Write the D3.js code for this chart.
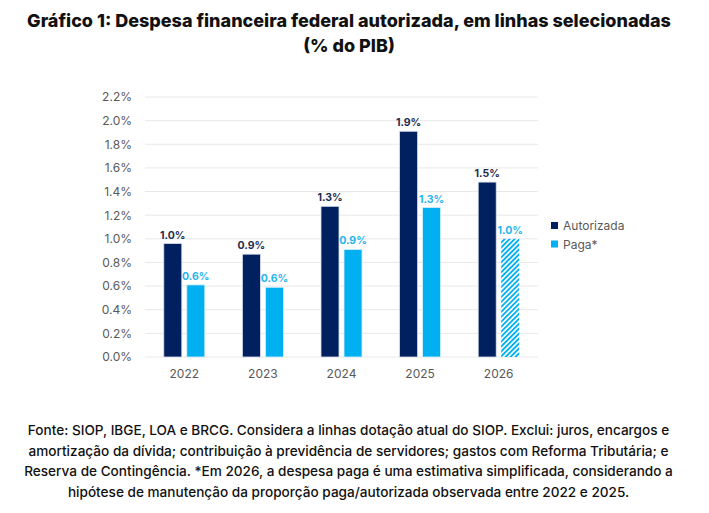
<!DOCTYPE html>
<html>
<head>
<meta charset="utf-8">
<script src="https://cdn.jsdelivr.net/npm/d3@7"></script>
<style>
  body { margin: 0; background: #fff; }
  svg { display: block; }
</style>
</head>
<body>
<div id="chart"></div>
<script>
// Data
const years = ["2022", "2023", "2024", "2025", "2026"];
const autorizada = [0.96, 0.87, 1.275, 1.91, 1.48];
const paga = [0.61, 0.59, 0.91, 1.265, 1.0];
const autorizadaLabels = ["1.0%", "0.9%", "1.3%", "1.9%", "1.5%"];
const pagaLabels = ["0.6%", "0.6%", "0.9%", "1.3%", "1.0%"];
const estimatedYears = ["2026"];
const yTicks = [0, 0.2, 0.4, 0.6, 0.8, 1.0, 1.2, 1.4, 1.6, 1.8, 2.0, 2.2];
const seriesNames = ["Autorizada", "Paga*"];

const titleLines = [
    "Gráfico 1: Despesa financeira federal autorizada, em linhas selecionadas",
    "(% do PIB)"
];
const noteLines = [
    "Fonte: SIOP, IBGE, LOA e BRCG. Considera a linhas dotação atual do SIOP. Exclui: juros, encargos e",
    "amortização da dívida; contribuição à previdência de servidores; gastos com Reforma Tributária; e",
    "Reserva de Contingência. *Em 2026, a despesa paga é uma estimativa simplificada, considerando a",
    "hipótese de manutenção da proporção paga/autorizada observada entre 2022 e 2025."
];

const W = 709, H = 513;
const navy = "#002060", cyan = "#00b0f0";
const font = "Inter, 'Open Sans', sans-serif";

const svg = d3.select("#chart").append("svg")
    .attr("width", W)
    .attr("height", H);

// hatch pattern for the estimated bar
const defs = svg.append("defs");
const pat = defs.append("pattern")
    .attr("id", "hatch")
    .attr("patternUnits", "userSpaceOnUse")
    .attr("width", 3.5)
    .attr("height", 3.5)
    .attr("patternTransform", "rotate(45)");
pat.append("rect").attr("width", 3.5).attr("height", 3.5).attr("fill", "#fff");
pat.append("rect").attr("width", 1.8).attr("height", 3.5).attr("fill", cyan);

// title
svg.append("g").selectAll("text")
    .data(titleLines)
    .enter()
    .append("text")
    .attr("x", 349)
    .attr("y", (d, i) => 27 + i * 25)
    .attr("text-anchor", "middle")
    .style("font-family", font)
    .style("font-weight", "800")
    .style("font-size", "18px")
    .style("fill", "#111")
    .text(d => d);

// plot area
const margin = { left: 145, right: 171, top: 97, bottom: 156 };
const x = d3.scaleBand()
    .domain(years)
    .range([margin.left, W - margin.right])
    .paddingInner(0)
    .paddingOuter(0);
const y = d3.scaleLinear()
    .domain([0, 2.2])
    .range([H - margin.bottom, margin.top]);

const barW = 18, gap = 5;

// gridlines
svg.append("g").selectAll("line")
    .data(yTicks)
    .enter()
    .append("line")
    .attr("x1", margin.left)
    .attr("x2", W - margin.right)
    .attr("y1", d => y(d))
    .attr("y2", d => y(d))
    .attr("stroke", "#e8e8e8")
    .attr("stroke-width", 1);

// y axis
const yAxis = svg.append("g")
    .attr("transform", `translate(${margin.left - 13},0)`)
    .call(d3.axisLeft(y).tickValues(yTicks).tickFormat(d => d.toFixed(1) + "%").tickSize(0).tickPadding(0));
yAxis.select(".domain").remove();
yAxis.selectAll("text")
    .style("font-family", font)
    .style("font-size", "12px")
    .style("fill", "#595959");

// x axis
const xAxis = svg.append("g")
    .attr("transform", `translate(0,${H - margin.bottom + 10})`)
    .call(d3.axisBottom(x).tickSize(0).tickPadding(0));
xAxis.select(".domain").remove();
xAxis.selectAll("text")
    .attr("dy", "0.9em")
    .style("font-family", font)
    .style("font-size", "12px")
    .style("fill", "#595959");

const rows = years.map((yr, i) => ({
    year: yr,
    a: autorizada[i],
    p: paga[i],
    aLab: autorizadaLabels[i],
    pLab: pagaLabels[i]
}));

const cx = d => x(d.year) + x.bandwidth() / 2;

// bars: autorizada
svg.append("g").selectAll("rect")
    .data(rows)
    .enter()
    .append("rect")
    .attr("x", d => cx(d) - gap / 2 - barW)
    .attr("y", d => y(d.a))
    .attr("width", barW)
    .attr("height", d => y(0) - y(d.a))
    .attr("fill", navy)
    .attr("stroke", "#d9dfec")
    .attr("stroke-width", 0.8);

// bars: paga
svg.append("g").selectAll("rect")
    .data(rows)
    .enter()
    .append("rect")
    .attr("x", d => cx(d) + gap / 2)
    .attr("y", d => y(d.p))
    .attr("width", barW)
    .attr("height", d => y(0) - y(d.p))
    .attr("fill", d => estimatedYears.includes(d.year) ? "url(#hatch)" : cyan)
    .attr("stroke", d => estimatedYears.includes(d.year) ? "none" : "#d6f0fb")
    .attr("stroke-width", 0.8);

// value labels
svg.append("g").selectAll("text")
    .data(rows)
    .enter()
    .append("text")
    .attr("x", d => cx(d) - gap / 2 - barW / 2)
    .attr("y", d => y(d.a) - 5)
    .attr("text-anchor", "middle")
    .style("font-family", font)
    .style("font-weight", "700")
    .style("font-size", "10.5px")
    .style("fill", "#1f2d4d")
    .text(d => d.aLab);

svg.append("g").selectAll("text")
    .data(rows)
    .enter()
    .append("text")
    .attr("x", d => cx(d) + gap / 2 + barW / 2)
    .attr("y", d => y(d.p) - 5)
    .attr("text-anchor", "middle")
    .style("font-family", font)
    .style("font-weight", "700")
    .style("font-size", "10.5px")
    .style("fill", "#27b5ec")
    .text(d => d.pLab);

// legend
const legend = svg.append("g")
    .attr("transform", "translate(551,226)")
    .selectAll("g")
    .data(seriesNames)
    .enter()
    .append("g")
    .attr("transform", (d, i) => `translate(0,${i * 18.5})`);
legend.append("rect")
    .attr("x", 0)
    .attr("y", -4)
    .attr("width", 7)
    .attr("height", 7)
    .attr("fill", (d, i) => i === 0 ? navy : cyan);
legend.append("text")
    .attr("x", 12)
    .attr("y", 0)
    .attr("dy", "0.35em")
    .style("font-family", font)
    .style("font-size", "12px")
    .style("fill", "#595959")
    .text(d => d);

// footnote
svg.append("g").selectAll("text")
    .data(noteLines)
    .enter()
    .append("text")
    .attr("x", 348.5)
    .attr("y", (d, i) => 435 + i * 20.7)
    .attr("text-anchor", "middle")
    .style("font-family", font)
    .style("font-weight", "500")
    .style("font-size", "13.6px")
    .style("fill", "#111")
    .text(d => d);
</script>
</body>
</html>
